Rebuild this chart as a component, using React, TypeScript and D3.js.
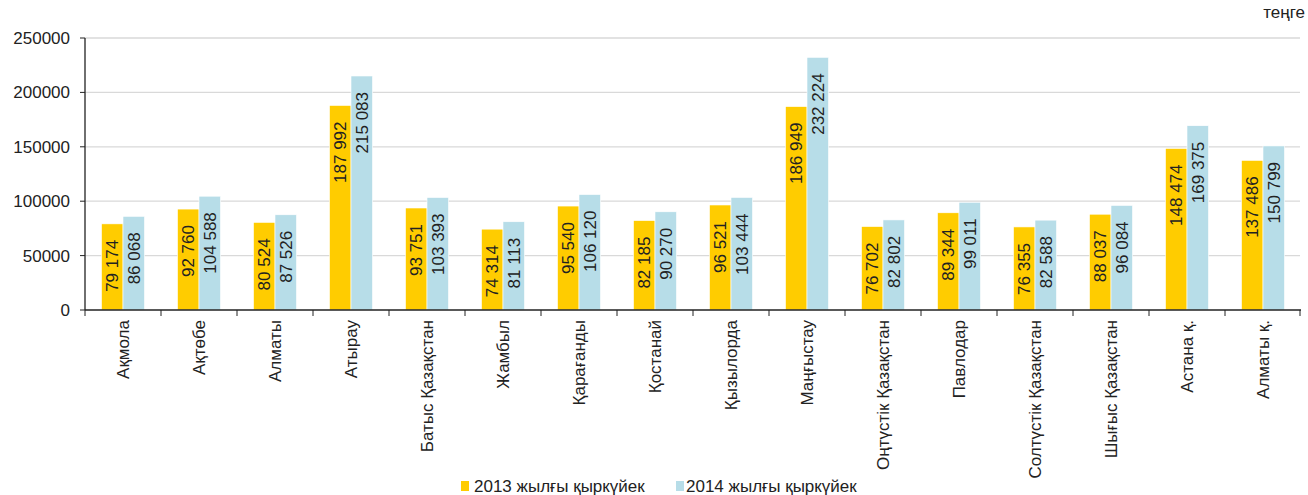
import React from "react";
import * as d3 from "d3";

const categories = [
  "Ақмола", "Ақтөбе", "Алматы", "Атырау", "Батыс Қазақстан", "Жамбыл",
  "Қарағанды", "Қостанай", "Қызылорда", "Маңғыстау", "Оңтүстік Қазақстан",
  "Павлодар", "Солтүстік Қазақстан", "Шығыс Қазақстан", "Астана қ.", "Алматы қ.",
];
const values2013 = [79174, 92760, 80524, 187992, 93751, 74314, 95540, 82185, 96521, 186949, 76702, 89344, 76355, 88037, 148474, 137486];
const values2014 = [86068, 104588, 87526, 215083, 103393, 81113, 106120, 90270, 103444, 232224, 82802, 99011, 82588, 96084, 169375, 150799];
const seriesNames = ["2013 жылғы қыркүйек", "2014 жылғы қыркүйек"];
const yTicks = [0, 50000, 100000, 150000, 200000, 250000];
const unitLabel = "теңге";

const W = 1308, H = 495;
const left = 85, right = 1301, top = 38, bottom = 310;
const colors = ["#ffcc00", "#b7dde8"];
const FONT = "'Liberation Sans', Arial, sans-serif";
const FS = 17;

const fmt = d3.formatLocale({ decimal: ",", thousands: "\u00a0", grouping: [3], currency: ["", ""] }).format(",d");

export default function App() {
  const x = d3.scaleBand<string>().domain(categories).range([left, right]).paddingInner(0).paddingOuter(0);
  const y = d3.scaleLinear().domain([0, 250000]).range([bottom, top]);
  const pairW = 43;
  const barW = pairW / 2;
  const series = [values2013, values2014];

  return (
    <svg width={W} height={H} style={{ position: "absolute", left: 0, top: 0, background: "#fff" }} fontFamily={FONT}>
      {yTicks.map((t) => (
        <g key={t}>
          {t > 0 && <line x1={left} x2={1300} y1={y(t)} y2={y(t)} stroke="#d9d9d9" strokeWidth={1.3} />}
          <line x1={left - 5} x2={left} y1={y(t)} y2={y(t)} stroke="#222" strokeWidth={1} />
          <text x={70} y={y(t)} dy="0.35em" textAnchor="end" fontSize={FS} fill="#222">{t}</text>
        </g>
      ))}
      {categories.map((c, i) => {
        const cx = (x(c) as number) + x.bandwidth() / 2;
        return (
          <g key={c}>
            {series.map((vals, s) => {
              const bx = cx - pairW / 2 + s * barW;
              const by = y(vals[i]);
              return (
                <g key={s}>
                  <rect x={bx} y={by} width={barW} height={bottom - by} fill={colors[s]} stroke="#fff" strokeWidth={0.6} />
                  <text
                    transform={`translate(${bx + barW / 2 + 6},${by + 16}) rotate(-90)`}
                    textAnchor="end" fontSize={FS} fill="#222"
                  >{fmt(vals[i])}</text>
                </g>
              );
            })}
            <text transform={`translate(${cx + 6},${320}) rotate(-90)`} textAnchor="end" fontSize={FS} fill="#222">{c}</text>
          </g>
        );
      })}
      {categories.map((c, i) => (
        <line key={"t" + i} x1={x(c) as number} x2={x(c) as number} y1={bottom} y2={bottom + 6} stroke="#222" strokeWidth={1} />
      ))}
      <line x1={right - 1} x2={right - 1} y1={bottom} y2={bottom + 6} stroke="#222" strokeWidth={1} />
      <line x1={left} x2={left} y1={top} y2={bottom} stroke="#222" strokeWidth={1.3} />
      <line x1={left} x2={right} y1={bottom} y2={bottom} stroke="#222" strokeWidth={1.6} />
      <text x={1305} y={18} textAnchor="end" fontSize={FS} fill="#222">{unitLabel}</text>
      <g>
        <rect x={461} y={481} width={8} height={10} fill={colors[0]} />
        <text x={474} y={492} fontSize={FS} fill="#222">{seriesNames[0]}</text>
        <rect x={676} y={481} width={8} height={10} fill={colors[1]} />
        <text x={686} y={492} fontSize={FS} fill="#222">{seriesNames[1]}</text>
      </g>
    </svg>
  );
}
